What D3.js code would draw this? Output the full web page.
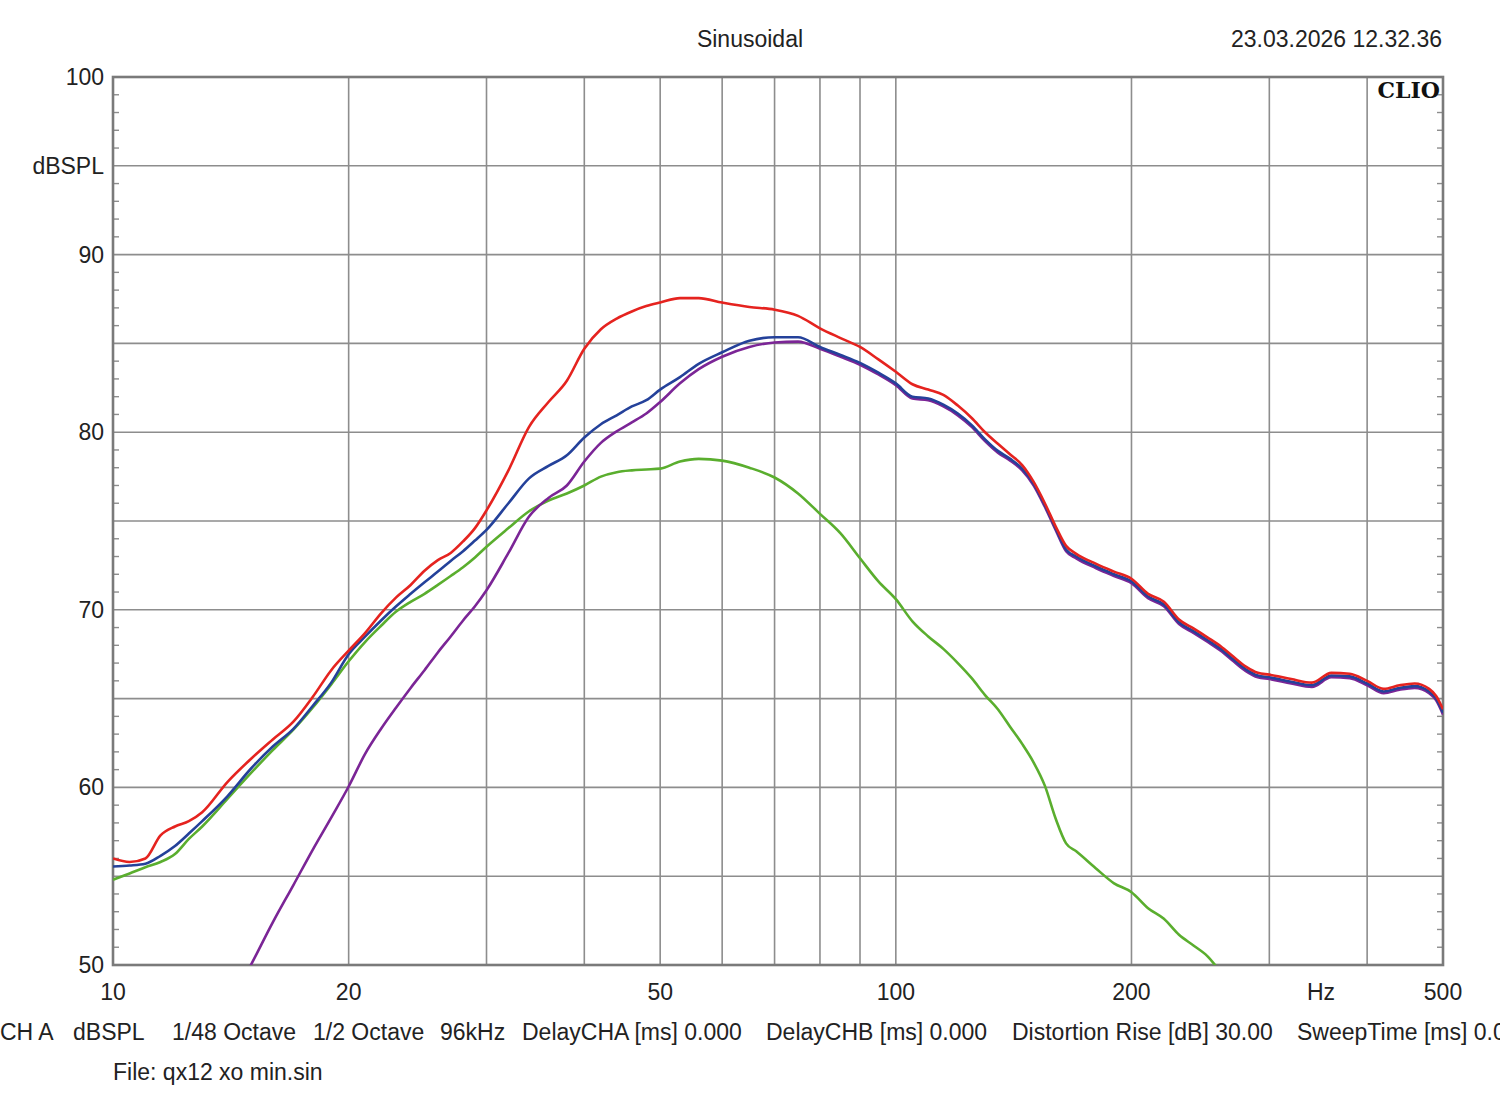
<!DOCTYPE html>
<html>
<head>
<meta charset="utf-8">
<script src="https://cdn.jsdelivr.net/npm/d3@7"></script>
<style>
  html, body { margin: 0; padding: 0; background: #ffffff; }
  svg text { font-family: "Liberation Sans", Arial, sans-serif; fill: #222; }
</style>
</head>
<body>
<svg id="chart" width="1500" height="1110"></svg>
<script>
// ---------------- DATA ----------------
const freqs = [10, 10.5, 11, 11.5, 12, 12.5, 13, 14, 15, 16, 17, 18, 19, 20, 21, 22, 23, 24, 25, 26, 27, 28, 29, 30,
  32, 34, 36, 38, 40, 42, 44, 46, 48, 50, 53, 56, 60, 65, 70, 75, 80, 85, 90, 95, 100,
  105, 110, 115, 120, 125, 130, 135, 140, 145, 150, 155, 160, 165, 170, 180, 190, 200,
  210, 220, 230, 240, 250, 260, 270, 280, 290, 300, 320, 340, 360, 380, 400, 420, 440, 460, 480, 490, 500];

const redDb = [56.0, 55.8, 56.0, 57.3, 57.8, 58.1, 58.6, 60.3, 61.6, 62.7, 63.7, 65.1, 66.6, 67.7, 68.7, 69.8, 70.7, 71.4, 72.2, 72.8, 73.2, 73.85, 74.6, 75.6,
  77.85, 80.3, 81.7, 82.9, 84.7, 85.8, 86.4, 86.8, 87.1, 87.3, 87.55, 87.55, 87.3, 87.05, 86.9, 86.55, 85.85, 85.3, 84.8, 84.1, 83.4,
  82.7, 82.4, 82.1, 81.5, 80.8, 80.0, 79.35, 78.75, 78.15, 77.2, 76.0, 74.7, 73.6, 73.15, 72.6, 72.15, 71.75,
  70.9, 70.45, 69.45, 68.95, 68.45, 67.95, 67.35, 66.8, 66.45, 66.35, 66.1, 65.9, 66.45, 66.4, 66.0, 65.55, 65.75, 65.85, 65.55, 65.15, 64.4];

const blueDb = [55.55, 55.6, 55.7, 56.15, 56.7, 57.4, 58.1, 59.5, 61.05, 62.3, 63.3, 64.6, 65.9, 67.5, 68.5, 69.4, 70.2, 70.9, 71.55, 72.15, 72.75, 73.3, 73.9, 74.5,
  76.0, 77.4, 78.1, 78.7, 79.7, 80.45, 80.95, 81.45, 81.8, 82.4, 83.1, 83.85, 84.5, 85.15, 85.35, 85.35, 84.8, 84.35, 83.9, 83.35, 82.75,
  82.0, 81.9, 81.55, 81.05, 80.4, 79.6, 78.95, 78.5, 77.95, 77.1, 75.9, 74.6, 73.4, 73.0, 72.45, 72.0, 71.6,
  70.75, 70.3, 69.3, 68.8, 68.3, 67.8, 67.2, 66.65, 66.3, 66.2, 65.95, 65.75, 66.3, 66.25, 65.85, 65.4, 65.6, 65.7, 65.4, 65.0, 64.2];

const purpleDb = [null, null, null, null, null, null, null, 47.6, 50.0, 52.4, 54.5, 56.5, 58.3, 60.05, 61.9, 63.3, 64.5, 65.6, 66.6, 67.6, 68.5, 69.4, 70.2, 71.1,
  73.2, 75.25, 76.3, 77.0, 78.35, 79.4, 80.05, 80.55, 81.05, 81.7, 82.75, 83.55, 84.25, 84.8, 85.05, 85.1, 84.7, 84.25, 83.8, 83.25, 82.65,
  81.9, 81.8, 81.45, 80.95, 80.3, 79.5, 78.85, 78.4, 77.85, 77.0, 75.8, 74.5, 73.3, 72.9, 72.35, 71.9, 71.5,
  70.65, 70.2, 69.2, 68.7, 68.2, 67.7, 67.1, 66.55, 66.2, 66.1, 65.85, 65.65, 66.2, 66.15, 65.75, 65.3, 65.5, 65.6, 65.3, 64.9, 64.1];

const greenDb = [54.8, 55.15, 55.5, 55.8, 56.25, 57.1, 57.8, 59.35, 60.8, 62.1, 63.25, 64.5, 65.8, 67.1, 68.2, 69.1, 69.9, 70.45, 70.9, 71.4, 71.9, 72.4, 72.95, 73.55,
  74.6, 75.55, 76.15, 76.55, 77.0, 77.5, 77.75, 77.85, 77.9, 77.95, 78.35, 78.5, 78.4, 78.0, 77.45, 76.55, 75.4, 74.3, 72.9, 71.6, 70.6,
  69.35, 68.5, 67.8, 67.0, 66.15, 65.2, 64.4, 63.4, 62.45, 61.4, 60.1, 58.25, 56.85, 56.4, 55.45, 54.6, 54.1,
  53.2, 52.6, 51.7, 51.1, 50.5, 49.6, null, null, null, null, null, null, null, null, null, null, null, null, null, null, null];

const gridFreqs = [20, 30, 40, 50, 60, 70, 80, 90, 100, 200, 300, 400];
const xTickLabels = ["10", "20", "50", "100", "200", "500"];
const xTickValues = [10, 20, 50, 100, 200, 500];
const yTickValues = [100, 90, 80, 70, 60, 50];
const yGridValues = [95, 90, 85, 80, 75, 70, 65, 60, 55];
const infoTexts = ["CH A", "dBSPL", "1/48 Octave", "1/2 Octave", "96kHz", "DelayCHA [ms] 0.000",
  "DelayCHB [ms] 0.000", "Distortion Rise [dB] 30.00", "SweepTime [ms] 0.000"];
const infoX = [0, 73, 172, 313, 440, 522, 766, 1012, 1297];

// ---------------- CHART ----------------
const L = 113, R = 1443, T = 77, B = 965;
const svg = d3.select("#chart");
const x = d3.scaleLog().domain([10, 500]).range([L, R]);
const y = d3.scaleLinear().domain([50, 100]).range([B, T]);

svg.append("defs").append("clipPath").attr("id", "plotclip")
  .append("rect").attr("x", L).attr("y", T).attr("width", R - L).attr("height", B - T);

const gridColor = "#8d8d8d";
// horizontal grid
svg.append("g").selectAll("line").data(yGridValues).join("line")
  .attr("x1", L).attr("x2", R).attr("y1", d => y(d)).attr("y2", d => y(d))
  .attr("stroke", gridColor).attr("stroke-width", 1.6);
// vertical grid
svg.append("g").selectAll("line").data(gridFreqs).join("line")
  .attr("x1", d => x(d)).attr("x2", d => x(d)).attr("y1", T).attr("y2", B)
  .attr("stroke", gridColor).attr("stroke-width", 1.6);

// minor ticks on left/right (1 dB)
const minor = d3.range(51, 100).filter(v => v % 5 !== 0);
svg.append("g").selectAll("line").data(minor).join("line")
  .attr("x1", L).attr("x2", L + 6).attr("y1", d => y(d)).attr("y2", d => y(d))
  .attr("stroke", gridColor).attr("stroke-width", 1.4);
svg.append("g").selectAll("line").data(minor).join("line")
  .attr("x1", R - 6).attr("x2", R).attr("y1", d => y(d)).attr("y2", d => y(d))
  .attr("stroke", gridColor).attr("stroke-width", 1.4);

// frame
svg.append("rect").attr("x", L).attr("y", T).attr("width", R - L).attr("height", B - T)
  .attr("fill", "none").attr("stroke", "#7a7a7a").attr("stroke-width", 2.6);

// curves
const series = [
  { name: "green", values: greenDb, color: "#5aae2e" },
  { name: "purple", values: purpleDb, color: "#7b2596" },
  { name: "blue", values: blueDb, color: "#24419a" },
  { name: "red", values: redDb, color: "#e5231f" }
];
const line = d3.line()
  .defined(d => d[1] !== null)
  .x(d => x(d[0])).y(d => y(d[1]))
  .curve(d3.curveMonotoneX);
const curves = svg.append("g").attr("clip-path", "url(#plotclip)");
series.forEach(s => {
  curves.append("path")
    .datum(freqs.map((f, i) => [f, s.values[i]]))
    .attr("fill", "none").attr("stroke", s.color).attr("stroke-width", 2.6)
    .attr("stroke-linejoin", "round").attr("d", line);
});

// y labels
svg.append("g").selectAll("text").data(yTickValues).join("text")
  .attr("x", 104).attr("y", d => y(d)).attr("text-anchor", "end")
  .attr("dominant-baseline", "central").attr("font-size", 23).text(d => d);
svg.append("text").attr("x", 104).attr("y", y(95)).attr("text-anchor", "end")
  .attr("dominant-baseline", "central").attr("font-size", 23).text("dBSPL");

// x labels
svg.append("g").selectAll("text").data(xTickValues).join("text")
  .attr("x", d => x(d)).attr("y", 992).attr("text-anchor", "middle")
  .attr("dominant-baseline", "central").attr("font-size", 23)
  .text((d, i) => xTickLabels[i]);
svg.append("text").attr("x", 1321).attr("y", 992).attr("text-anchor", "middle")
  .attr("dominant-baseline", "central").attr("font-size", 23).text("Hz");

// header
svg.append("text").attr("x", 750).attr("y", 39).attr("text-anchor", "middle")
  .attr("dominant-baseline", "central").attr("font-size", 23).text("Sinusoidal");
svg.append("text").attr("x", 1442).attr("y", 39).attr("text-anchor", "end")
  .attr("dominant-baseline", "central").attr("font-size", 23).text("23.03.2026 12.32.36");

// CLIO logo
svg.append("text").attr("x", 1440).attr("y", 90).attr("text-anchor", "end")
  .attr("dominant-baseline", "central").attr("font-size", 22)
  .style("font-family", "'DejaVu Serif', 'Liberation Serif', serif").attr("font-weight", "bold")
  .style("fill", "#111").text("CLIO");

// info line
svg.append("g").selectAll("text").data(infoTexts).join("text")
  .attr("x", (d, i) => infoX[i]).attr("y", 1032)
  .attr("dominant-baseline", "central").attr("font-size", 23).text(d => d);
svg.append("text").attr("x", 113).attr("y", 1072)
  .attr("dominant-baseline", "central").attr("font-size", 23).text("File: qx12 xo min.sin");
</script>
</body>
</html>
